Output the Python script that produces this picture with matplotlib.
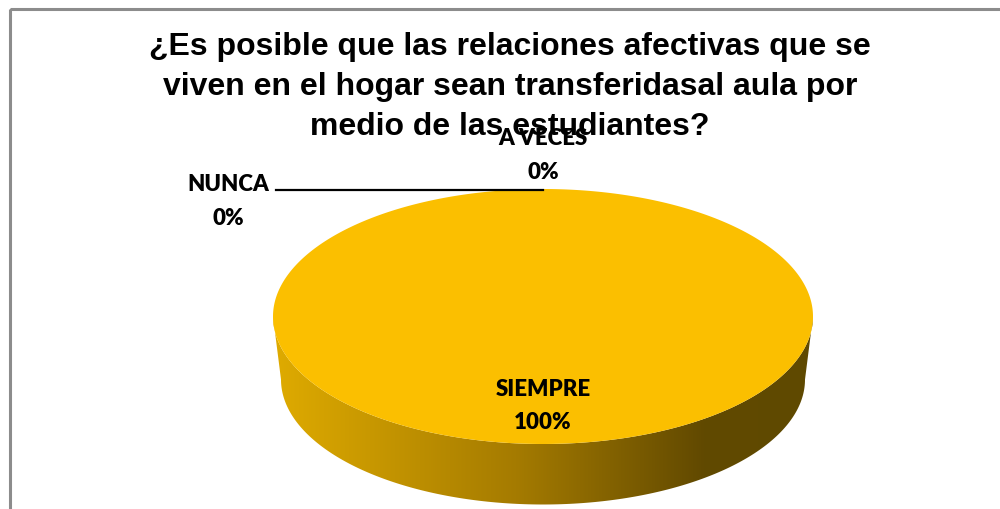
import numpy as np
import matplotlib
matplotlib.use("Agg")
import matplotlib.pyplot as plt
from matplotlib.patches import Polygon, Rectangle
from matplotlib.colors import LinearSegmentedColormap

# data
categories = ["SIEMPRE", "A VECES", "NUNCA"]
values = [100, 0, 0]
title = ("¿Es posible que las relaciones afectivas que se\n"
         "viven en el hogar sean transferidasal aula por\n"
         "medio de las estudiantes?")

W, H = 1000, 510
fig = plt.figure(figsize=(W / 100, H / 100), dpi=100)
ax = fig.add_axes([0, 0, 1, 1])
ax.set_xlim(0, W)
ax.set_ylim(H, 0)
ax.axis("off")

# chart frame
ax.add_patch(Rectangle((10, 10), 1000, 520, fill=False, ec="#8c8c8c", lw=2.2))

# pie geometry (pixel space)
cx, cy, rx, ry = 543, 317.5, 270, 127.5
depth = 63
rx_b, ry_b = 262, 125

fracs = np.array(values, dtype=float) / sum(values)
starts = np.concatenate([[0], np.cumsum(fracs)[:-1]])


def pt(theta_frac, cxx, cyy, rxx, ryy):
    # Excel style: start at 12 o'clock, clockwise
    a = np.pi / 2 - 2 * np.pi * theta_frac
    return cxx + rxx * np.cos(a), cyy - ryy * np.sin(a)


# side wall with gradient
t = np.linspace(0, np.pi, 200)
top_arc = np.column_stack([cx - rx * np.cos(t), cy + ry * np.sin(t)])
bot_arc = np.column_stack([cx - rx_b * np.cos(t[::-1]), cy + depth + ry_b * np.sin(t[::-1])])
side = Polygon(np.vstack([top_arc, bot_arc]), closed=True, fc="none", ec="none")
ax.add_patch(side)
side_cmap = LinearSegmentedColormap.from_list(
    "side", [(0, "#dfab00"), (0.45, "#a57b00"), (0.8, "#614900"), (1, "#5f4a00")])
grad = np.linspace(0, 1, 256).reshape(1, -1)
im = ax.imshow(grad, cmap=side_cmap, extent=(cx - rx, cx + rx, cy + depth + ry_b + 2, cy - 5),
               aspect="auto", zorder=1)
im.set_clip_path(side)

# top faces
face_colors = ["#fbbf00", "#e06c00", "#7f7f7f"]
for f, s, col in zip(fracs, starts, face_colors):
    if f <= 0:
        continue
    tt = np.linspace(s, s + f, 400)
    xs, ys = pt(tt, cx, cy, rx, ry)
    verts = np.column_stack([xs, ys])
    if f < 1:
        verts = np.vstack([[cx, cy], verts])
    ax.add_patch(Polygon(verts, closed=True, fc=col, ec="none", zorder=2))

# labels
lab_font = dict(family=["Lato", "DejaVu Sans"], fontweight="heavy", fontsize=16, color="black",
                ha="center", va="center", linespacing=1.72, zorder=5)
ax.text(cx, 406, f"{categories[0]}\n{values[0]}%", **lab_font)
ax.text(543, 155.5, f"{categories[1]}\n{values[1]}%", **lab_font)
ax.text(228, 201.5, f"{categories[2]}\n{values[2]}%", **lab_font)

# leader line for NUNCA to its (zero-width) slice at the top of the pie
lx, ly = pt(starts[2], cx, cy, rx, ry)
ax.plot([276, lx], [ly + 0.5, ly + 0.5], color="black", lw=1.6, zorder=4)

ax.text(510, 87, title, family=["Liberation Sans", "DejaVu Sans"], fontweight="bold",
        fontsize=23, ha="center", va="center", linespacing=1.45, zorder=6)

fig.savefig("out.png", dpi=100)
